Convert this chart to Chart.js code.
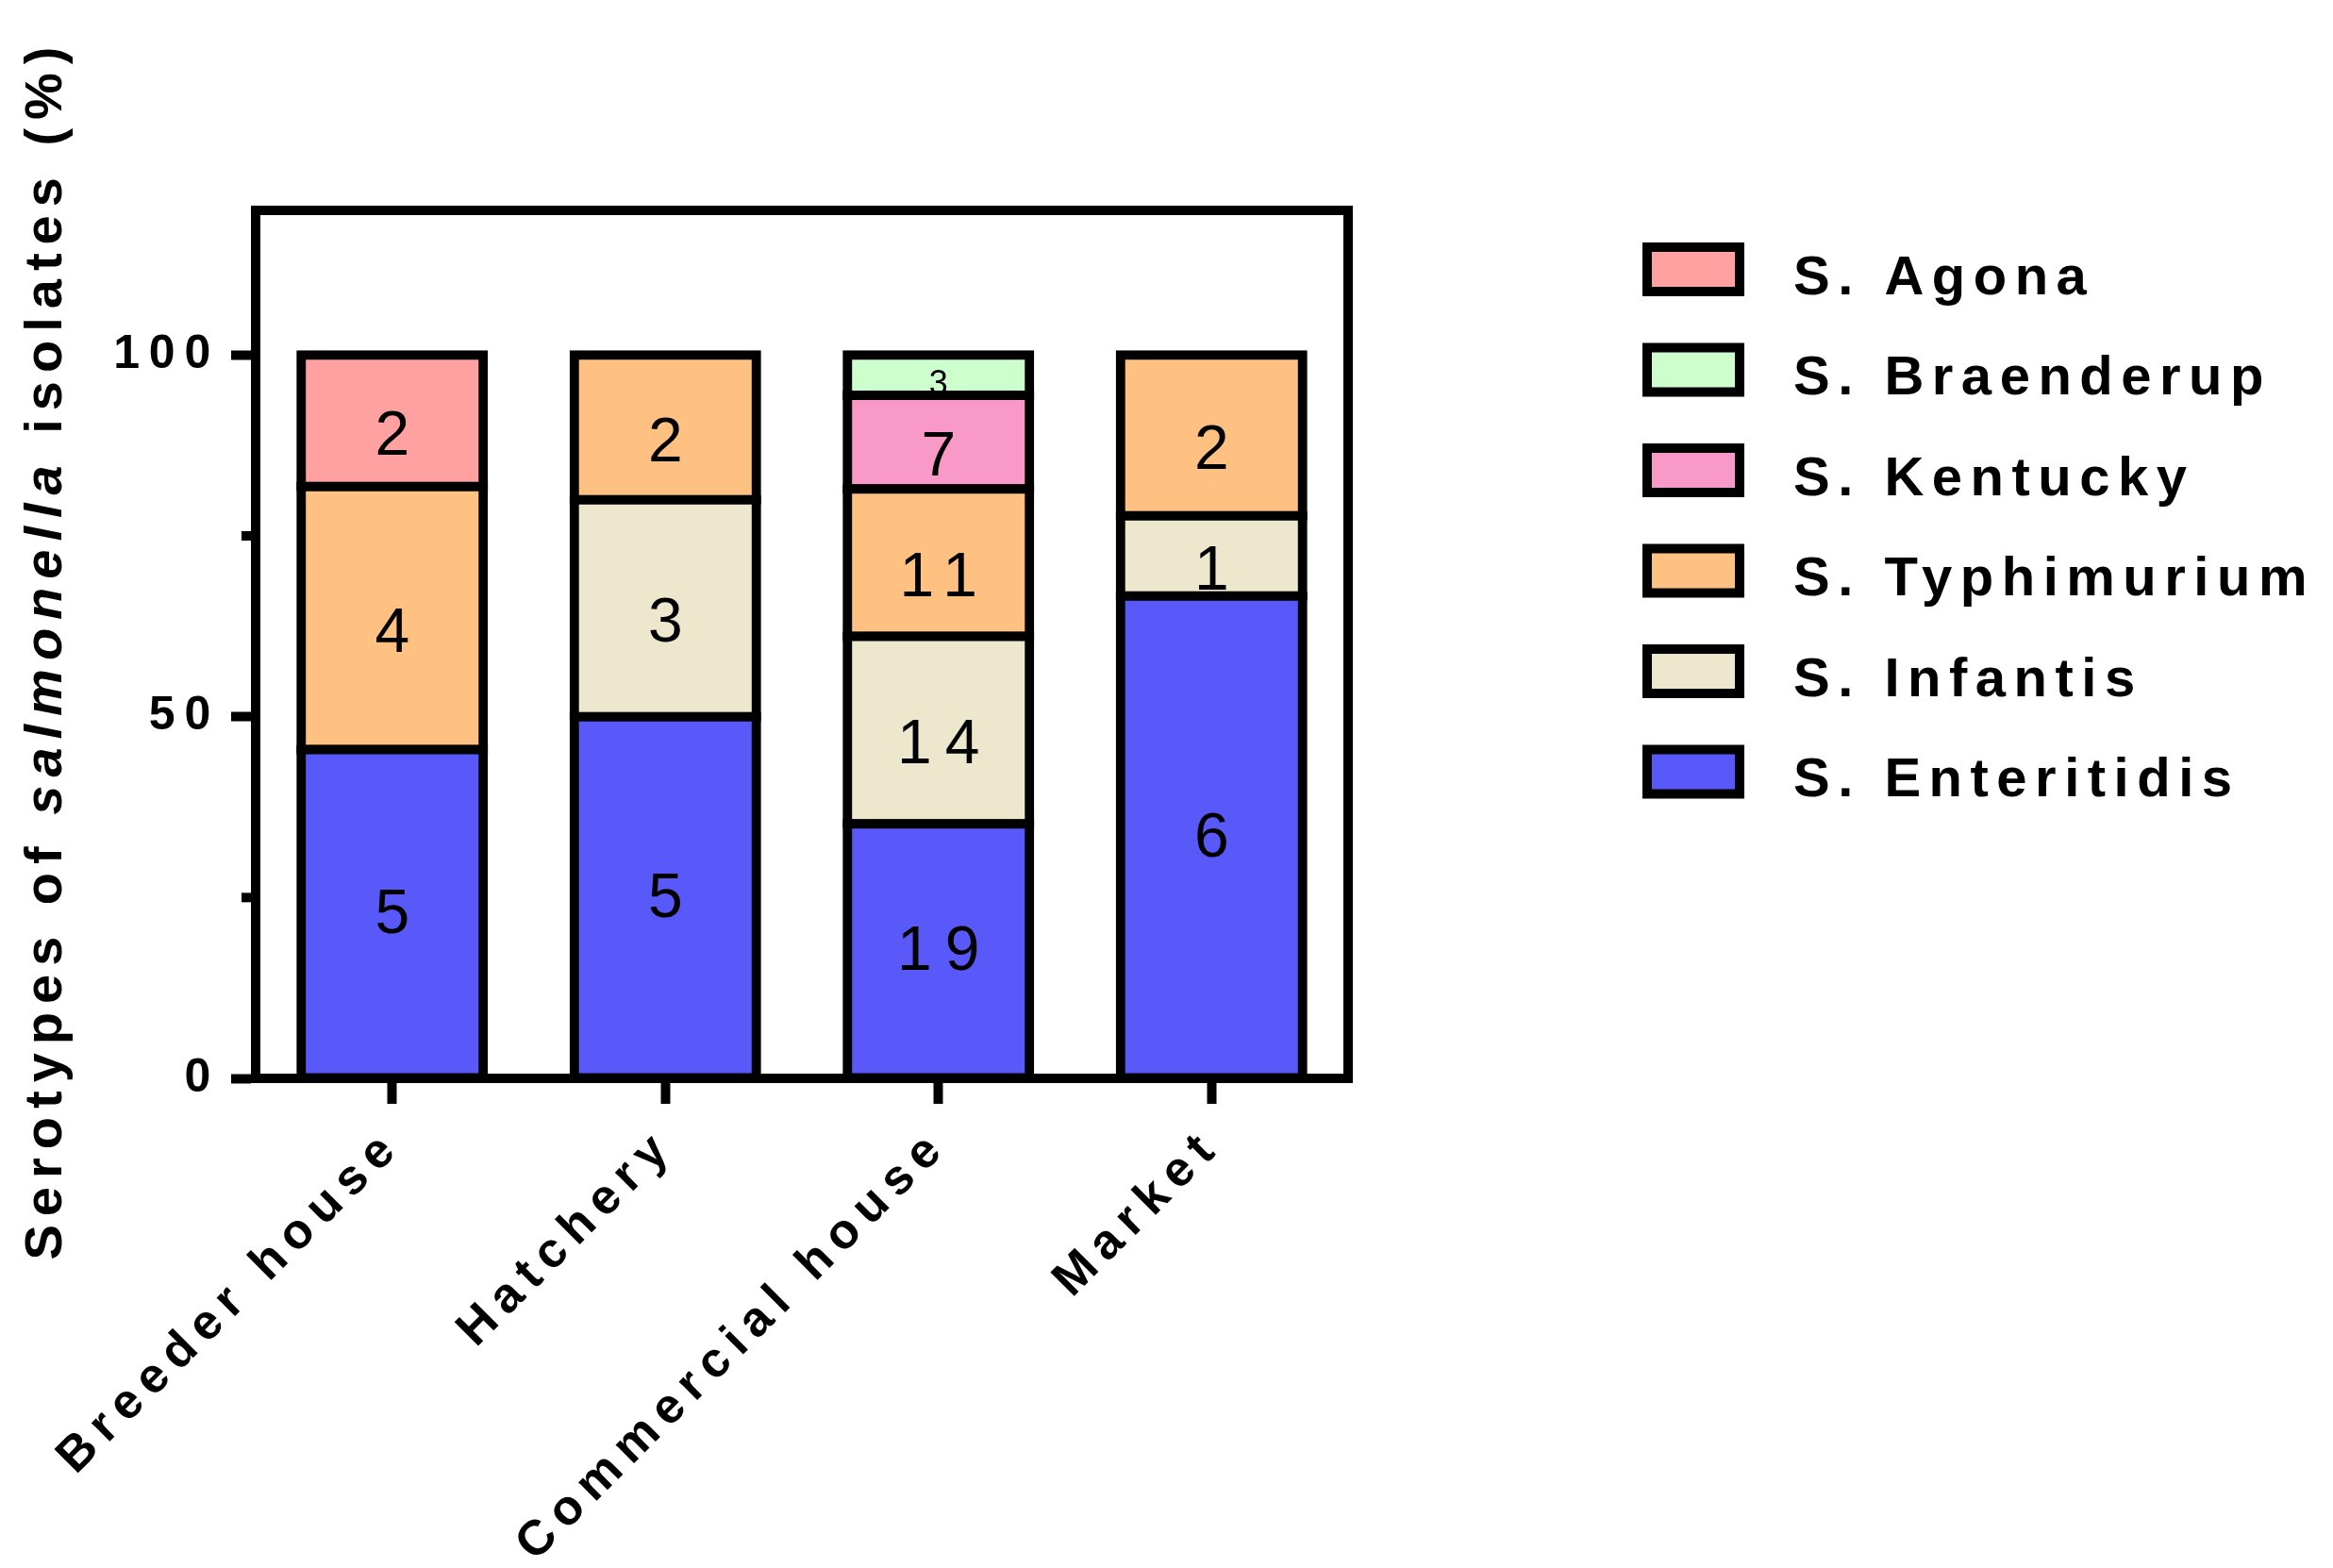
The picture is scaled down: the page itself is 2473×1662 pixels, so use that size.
<!DOCTYPE html>
<html>
<head>
<meta charset="utf-8">
<script src="https://cdn.jsdelivr.net/npm/chart.js@4.4.1/dist/chart.umd.min.js"></script>
<style>
  html, body { margin: 0; padding: 0; background: #ffffff; }
  #wrap { width: 2473px; height: 1662px; position: relative; }
</style>
</head>
<body>
<div id="wrap"><canvas id="c"></canvas></div>
<script>
// ---------- data ----------
const categories = ['Breeder house', 'Hatchery', 'Commercial house', 'Market'];
const serotypes = ['S. Enteritidis', 'S. Infantis', 'S. Typhimurium', 'S. Kentucky', 'S. Braenderup', 'S. Agona'];

// percentage of isolates (segment heights)
const enteritidisPct = [45.45, 50.0, 35.19, 66.67];
const infantisPct    = [null, 30.0, 25.93, 11.11];
const typhimuriumPct = [36.36, 20.0, 20.37, 22.22];
const kentuckyPct    = [null, null, 12.96, null];
const braenderupPct  = [null, null, 5.55, null];
const agonaPct       = [18.19, null, null, null];

// number of isolates printed inside the segments
const enteritidisN = [5, 5, 19, 6];
const infantisN    = [null, 3, 14, 1];
const typhimuriumN = [4, 2, 11, 2];
const kentuckyN    = [null, null, 7, null];
const braenderupN  = [null, null, 3, null];
const agonaN       = [2, null, null, null];

const yTickLabels = [0, 50, 100];
const yMinorTicks = [25, 75];

const colors = ['#5959F9', '#EDE7CD', '#FFC181', '#F999C8', '#CCFFCC', '#FFA1A1'];

const pctSeries = [enteritidisPct, infantisPct, typhimuriumPct, kentuckyPct, braenderupPct, agonaPct];
const countSeries = [enteritidisN, infantisN, typhimuriumN, kentuckyN, braenderupN, agonaN];

const FAMILY = "'Liberation Sans', Arial, Helvetica, sans-serif";
Chart.defaults.font.family = FAMILY;
Chart.defaults.color = '#000';

// ---------- plugins ----------
const spacingPlugin = {
  id: 'spacing',
  beforeDraw(chart) { chart.ctx.letterSpacing = '9.8px'; }
};

const minorTickPlugin = {
  id: 'minorTicks',
  afterDraw(chart) {
    const ctx = chart.ctx, y = chart.scales.y, a = chart.chartArea;
    ctx.save();
    ctx.strokeStyle = '#000';
    ctx.lineWidth = 10;
    yMinorTicks.forEach(v => {
      const py = y.getPixelForValue(v);
      ctx.beginPath();
      ctx.moveTo(a.left - 15, py);
      ctx.lineTo(a.left - 4, py);
      ctx.stroke();
    });
    ctx.restore();
  }
};

const framePlugin = {
  id: 'frame',
  afterDraw(chart) {
    const ctx = chart.ctx, a = chart.chartArea;
    ctx.save();
    ctx.strokeStyle = '#000';
    ctx.lineWidth = 10;
    ctx.lineJoin = 'miter';
    ctx.strokeRect(a.left, a.top, a.right - a.left, a.bottom - a.top);
    ctx.restore();
  }
};

const segmentLabelPlugin = {
  id: 'segmentLabels',
  afterDatasetDraw(chart, args) {
    const i = args.index, meta = args.meta, ctx = chart.ctx;
    const counts = countSeries[i];
    meta.data.forEach((el, j) => {
      const n = counts[j];
      if (n == null || pctSeries[i][j] == null) return;
      const x = el.x, y = el.y, base = el.base;
      const h = Math.abs(base - y);
      const small = h < 60;
      const size = small ? 36 : 66;
      const sp = small ? 4 : 14;
      const drop = small ? 8 : (i === 0 ? -3 : 12);
      ctx.save();
      ctx.font = `${size}px ${FAMILY}`;
      ctx.letterSpacing = sp + 'px';
      ctx.fillStyle = '#000';
      ctx.textAlign = 'center';
      ctx.textBaseline = 'alphabetic';
      ctx.fillText(String(n), x + sp / 2, (y + base) / 2 + drop + size * 0.358);
      ctx.restore();
    });
  }
};

const legendPlugin = {
  id: 'sideLegend',
  afterDraw(chart) {
    const ctx = chart.ctx, a = chart.chartArea;
    const boxL = a.right + 312, top0 = a.top + 62.5, step = 106.5;
    ctx.save();
    ctx.font = `bold 58px ${FAMILY}`;
    ctx.letterSpacing = '8.5px';
    ctx.textAlign = 'left';
    ctx.textBaseline = 'alphabetic';
    const dsets = chart.data.datasets;
    for (let k = 0; k < dsets.length; k++) {
      const ds = dsets[dsets.length - 1 - k];
      const cy = top0 + k * step;
      ctx.fillStyle = ds.backgroundColor;
      ctx.fillRect(boxL + 5, cy - 23.5, 98, 47);
      ctx.strokeStyle = '#000';
      ctx.lineWidth = 10;
      ctx.strokeRect(boxL + 5, cy - 23.5, 98, 47);
      ctx.fillStyle = '#000';
      ctx.fillText(ds.label, boxL + 160, cy + 26);
    }
    ctx.restore();
  }
};

const yTitlePlugin = {
  id: 'yTitle',
  afterDraw(chart) {
    const ctx = chart.ctx, a = chart.chartArea;
    const parts = [['Serotypes of ', 'bold'], ['salmonella', 'italic bold'], [' isolates (%)', 'bold']];
    ctx.save();
    ctx.letterSpacing = '9px';
    ctx.fillStyle = '#000';
    ctx.textAlign = 'left';
    ctx.textBaseline = 'alphabetic';
    let total = 0;
    const widths = parts.map(([t, st]) => {
      ctx.font = `${st} 56px ${FAMILY}`;
      const w = ctx.measureText(t).width;
      total += w;
      return w;
    });
    const cy = (a.top + a.bottom) / 2 + 5;
    ctx.translate(65, cy);
    ctx.rotate(-Math.PI / 2);
    let x = -total / 2;
    parts.forEach(([t, st], k) => {
      ctx.font = `${st} 56px ${FAMILY}`;
      ctx.fillText(t, x, 0);
      x += widths[k];
    });
    ctx.restore();
  }
};

// ---------- chart ----------
new Chart(document.getElementById('c'), {
  type: 'bar',
  data: {
    labels: categories,
    datasets: serotypes.map((name, i) => ({
      label: name,
      data: pctSeries[i],
      backgroundColor: colors[i],
      borderColor: '#000',
      borderWidth: 10,
      borderSkipped: false,
      inflateAmount: 5,
      barPercentage: 0.667,
      categoryPercentage: 1
    }))
  },
  options: {
    responsive: true,
    maintainAspectRatio: false,
    animation: false,
    devicePixelRatio: 1,
    layout: { padding: { left: 0, top: 223, right: 1044, bottom: 0 } },
    plugins: {
      legend: { display: false },
      tooltip: { enabled: false },
      title: { display: false }
    },
    scales: {
      x: {
        stacked: true,
        offset: true,
        grid: {
          display: true, drawOnChartArea: false, drawTicks: true, offset: false,
          tickLength: 27, tickWidth: 10, tickColor: '#000'
        },
        border: { display: true, width: 10, color: '#000' },
        ticks: {
          autoSkip: false, maxRotation: 45, minRotation: 45, padding: 14, labelOffset: 2, color: '#000',
          font: { family: FAMILY, size: 52, weight: 'bold' }
        },
        afterFit(s) { s.height = 519; }
      },
      y: {
        stacked: true,
        min: 0,
        max: 120,
        afterBuildTicks(s) { s.ticks = s.ticks.filter(t => t.value <= 100); },
        ticks: {
          stepSize: 25, padding: 12, color: '#000',
          font: { family: FAMILY, size: 50, weight: 'bold' },
          callback: v => yTickLabels.includes(v) ? String(v) : ''
        },
        grid: {
          display: true, drawOnChartArea: false, drawTicks: true,
          tickLength: 26, tickWidth: 10,
          tickColor: c => (c.tick && yTickLabels.includes(c.tick.value)) ? '#000' : 'rgba(0,0,0,0)'
        },
        border: { display: true, width: 10, color: '#000' },
        afterFit(s) { s.width = 271; }
      }
    }
  },
  plugins: [spacingPlugin, segmentLabelPlugin, minorTickPlugin, framePlugin, legendPlugin, yTitlePlugin]
});
</script>
</body>
</html>
